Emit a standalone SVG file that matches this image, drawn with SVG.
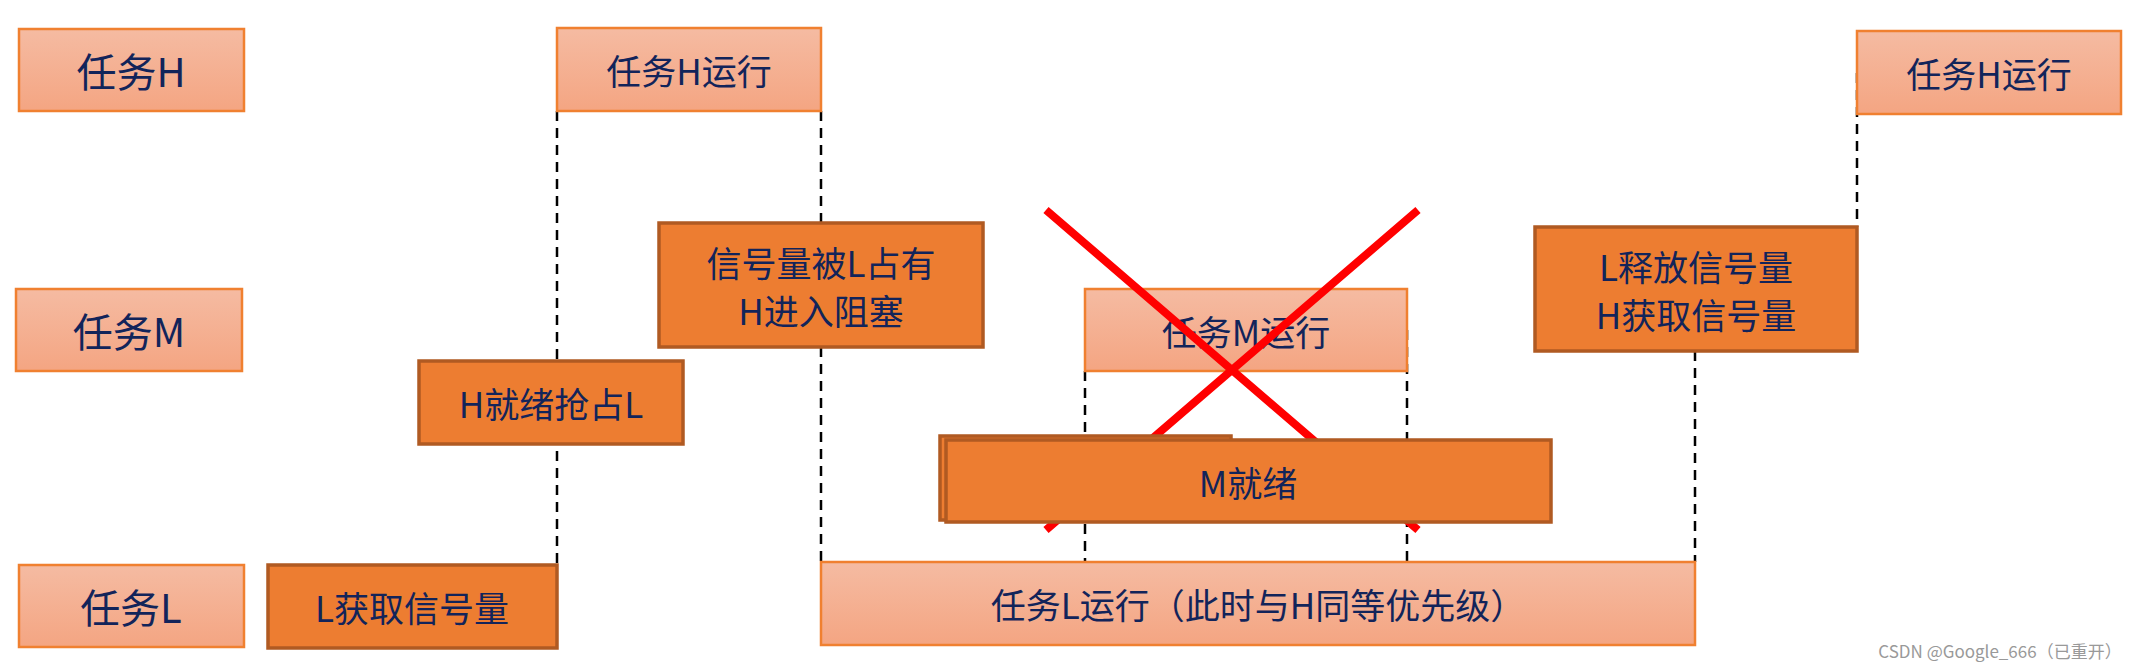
<svg xmlns="http://www.w3.org/2000/svg" width="2149" height="672" viewBox="0 0 2149 672">
<style>
.lt{fill:url(#g);stroke:#F08030;stroke-width:2.5}
.dk{fill:#ED7D31;stroke:#B05A22;stroke-width:3.5}
text{font-family:"Noto Sans CJK SC","Liberation Sans",sans-serif;fill:#12245A;text-anchor:middle;dominant-baseline:central}
.b{font-size:40px}.m{font-size:35px}
.d{stroke:#000;stroke-width:2.5;stroke-dasharray:10 7;fill:none}
.x{stroke:#FF0000;stroke-width:8}
</style>
<defs><linearGradient id="g" x1="0" y1="0" x2="0" y2="1"><stop offset="0" stop-color="#F5BBA2"/><stop offset="1" stop-color="#F4A582"/></linearGradient></defs>
<g id="connectors">
<path class="d" d="M557 111V565M821 111V223M821 347V562M1085 371V562M1407 330V562M1695 351V562M1857 73V227"/>
</g>
<g id="taskH"><rect class="lt" x="19" y="29" width="225" height="82"/><text class="b" x="131" y="70">任务H</text></g>
<g id="taskM"><rect class="lt" x="16" y="289" width="226" height="82"/><text class="b" x="129" y="330">任务M</text></g>
<g id="taskL"><rect class="lt" x="19" y="565" width="225" height="82"/><text class="b" x="131" y="606">任务L</text></g>
<g id="lget"><rect class="dk" x="268" y="565" width="289" height="83"/><text class="m" x="412" y="606">L获取信号量</text></g>
<g id="hrun1"><rect class="lt" x="557" y="28" width="264" height="83"/><text class="m" x="689" y="69">任务H运行</text></g>
<g id="hready"><rect class="dk" x="419" y="361" width="264" height="83"/><text class="m" x="551" y="402">H就绪抢占L</text></g>
<g id="sem"><rect class="dk" x="659" y="223" width="324" height="124"/><text class="m" x="821" y="261">信号量被L占有</text><text class="m" x="821" y="309">H进入阻塞</text></g>
<g id="lrun"><rect class="lt" x="821" y="562" width="874" height="83"/><text class="m" x="1258" y="603">任务L运行（此时与H同等优先级）</text></g>
<g id="mrun"><rect class="lt" x="1085" y="289" width="322" height="82"/><text class="m" x="1246" y="330">任务M运行</text></g>
<g id="cross"><path class="x" d="M1046 210L1418 530M1418 210L1046 530"/></g>
<g id="mready"><rect class="dk" x="940" y="436" width="291" height="84"/><rect class="dk" x="946" y="440" width="605" height="82"/><text class="m" x="1248" y="481">M就绪</text></g>
<g id="lrel"><rect class="dk" x="1535" y="227" width="322" height="124"/><text class="m" x="1696" y="265">L释放信号量</text><text class="m" x="1696" y="313">H获取信号量</text></g>
<g id="hrun2"><rect class="lt" x="1857" y="31" width="264" height="83"/><text class="m" x="1989" y="72">任务H运行</text></g>
<text x="2000" y="650" style="font-size:17px;fill:#999">CSDN @Google_666（已重开）</text>
</svg>
